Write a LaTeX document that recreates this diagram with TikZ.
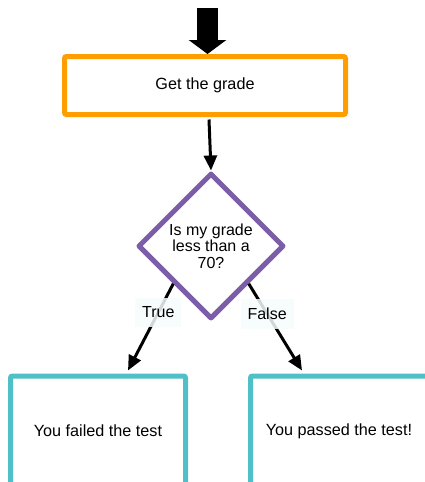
\documentclass[tikz,border=0pt]{standalone}
\usepackage{fontspec}
\setmainfont{Liberation Sans}
\usetikzlibrary{shapes.geometric, arrows.meta}

\definecolor{gradeorange}{RGB}{255,158,0}
\definecolor{condpurple}{RGB}{123,94,167}
\definecolor{resultteal}{RGB}{79,192,200}
\definecolor{labelbg}{RGB}{246,252,252}

\begin{document}
\begin{tikzpicture}[x=1pt, y=-1pt,
    box/.style={draw, line width=5pt, rounded corners=2pt, fill=white,
        align=center, font=\fontsize{16.2}{17}\selectfont},
    cond/.style={diamond, draw=condpurple, line width=5pt, line join=round,
        fill=white, minimum size=146pt, inner sep=0pt, align=center,
        font=\fontsize{16}{16.5}\selectfont},
    arrow/.style={line width=3pt, -{Triangle[length=15pt, width=13pt]}},
    lbl/.style={fill=labelbg, fill opacity=0.85, text opacity=1,
        inner xsep=7pt, inner ysep=9pt, font=\fontsize{16}{17}\selectfont}
]
    \useasboundingbox (0,0) rectangle (425,482);

    % --- ノードの描画 ---
    \node[box, draw=gradeorange, minimum width=281pt, minimum height=58pt] (grade) at (205,85.5) {Get the grade};
    \node[cond] (check) at (211,246) {Is my grade\\less than a\\70?};
    \node[box, draw=resultteal, minimum width=175pt, minimum height=110pt] (failed) at (98,431) {You failed the test};
    \node[box, draw=resultteal, minimum width=177pt, minimum height=110pt] (passed) at (339,431) {You passed the test!};

    % --- 入口の太い矢印 ---
    \coordinate (entry) at (207.5,8);
    \draw[line width=21pt, -{Triangle[length=14pt, width=37pt]}] (entry) -- (entry |- grade.north);

    % --- 矢印の描画 ---
    \draw[arrow] ([xshift=4pt, yshift=-2.5pt]grade.south) -- (check.north);
    \draw[arrow] (check.south west) -- node[lbl, pos=0.33] {True} ([xshift=30pt, yshift=3pt]failed.north);
    \draw[arrow] (check.south east) -- node[lbl, pos=0.345] {False} ([xshift=-37pt, yshift=3pt]passed.north);

\end{tikzpicture}
\end{document}
